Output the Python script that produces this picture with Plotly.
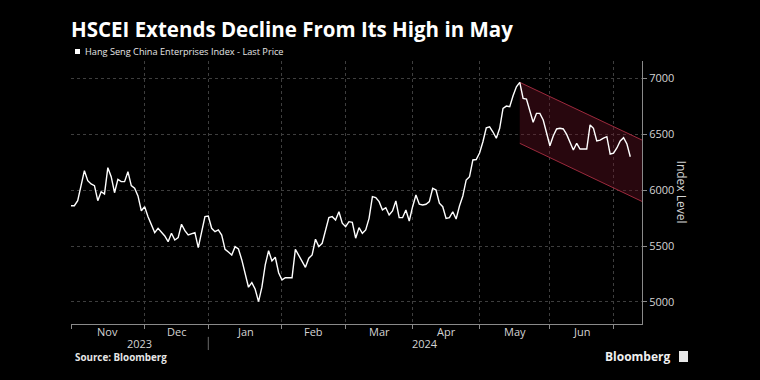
import pandas as pd
import plotly.graph_objects as go

TITLE = "HSCEI Extends Decline From Its High in May"
SERIES_NAME = "Hang Seng China Enterprises Index - Last Price"
SOURCE = "Source: Bloomberg"
Y_TITLE = "Index Level"

# Trading calendar (HKEX): first trading day and market holidays
START_DATE = "2023-11-01"
HOLIDAYS = ["2023-12-25", "2023-12-26", "2024-01-01", "2024-02-12", "2024-02-13",
            "2024-03-29", "2024-04-01", "2024-04-04", "2024-05-01", "2024-05-15",
            "2024-06-10", "2024-07-01"]

# Daily closing levels, one per trading day
values = [
    5861, 5861, 5906, 6040, 6174, 6085, 6055, 6040, 5906, 5986,
    5966, 6201, 6120, 5977, 6097, 6076, 6076, 6165, 6040, 6017,
    5948, 5816, 5852, 5763, 5697, 5620, 5659, 5620, 5590, 5539,
    5614, 5554, 5575, 5695, 5638, 5599, 5608, 5620, 5486, 5626,
    5763, 5769, 5659, 5629, 5644, 5599, 5471, 5447, 5420, 5495,
    5474, 5376, 5250, 5132, 5173, 5114, 5003, 5132, 5331, 5459,
    5367, 5400, 5262, 5197, 5217, 5217, 5217, 5471, 5420, 5367,
    5310, 5391, 5420, 5561, 5495, 5525, 5644, 5754, 5763, 5733,
    5807, 5704, 5673, 5718, 5713, 5570, 5664, 5614, 5644, 5748,
    5942, 5933, 5897, 5823, 5843, 5778, 5814, 5903, 5754, 5754,
    5823, 5724, 5852, 5957, 5874, 5867, 5874, 5897, 6017, 6001,
    5883, 5852, 5748, 5754, 5807, 5742, 5858, 5948, 6091, 6120,
    6270, 6274, 6332, 6433, 6558, 6567, 6520, 6464, 6553, 6732,
    6752, 6746, 6844, 6925, 6964, 6821, 6815, 6717, 6607, 6687,
    6687, 6627, 6502, 6397, 6484, 6547, 6553, 6547, 6499, 6433,
    6359, 6419, 6368, 6368, 6368, 6583, 6553, 6440, 6448, 6466,
    6478, 6323, 6330, 6377, 6440, 6469, 6413, 6299,
]

month_labels = ["Nov", "Dec", "Jan", "Feb", "Mar", "Apr", "May", "Jun"]
y_ticks = [5000, 5500, 6000, 6500, 7000]

# Downward channel drawn from the May high to the chart's right edge
channel_start_date = "2024-05-21"
channel_upper = [6964, 6448]
channel_lower = [6419, 5899]

# ---------------------------------------------------------------
dates = pd.bdate_range(START_DATE, periods=len(values), freq="C", holidays=HOLIDAYS)
n = len(values)
xs = list(range(n))
X_MAX = n - 1 + 3.5

bounds = [0] + [i for i in range(1, n) if dates[i].month != dates[i - 1].month]
label_pos = [(bounds[i] + bounds[i + 1]) / 2 for i in range(len(month_labels))]
year_change = [i for i in range(1, n) if dates[i].year != dates[i - 1].year][0]
years = [str(dates[0].year), str(dates[-1].year)]
year_pos = [(0 + year_change) / 2, (year_change + X_MAX) / 2]

cs = list(dates).index(pd.Timestamp(channel_start_date))

GRID = "#3e3e3e"
AXIS = "#8a8a8a"
TXT = "#d4d4d4"
FONT = "Open Sans"

fig = go.Figure()

fig.add_trace(go.Scatter(
    x=[cs, X_MAX, X_MAX, cs, cs],
    y=[channel_upper[0], channel_upper[1], channel_lower[1], channel_lower[0], channel_upper[0]],
    mode="lines", fill="toself", fillcolor="rgba(105,18,38,0.38)",
    line=dict(width=0), hoverinfo="skip", showlegend=False))
fig.add_trace(go.Scatter(x=[cs, X_MAX], y=channel_upper, mode="lines",
                         line=dict(color="#9c2a3d", width=1), hoverinfo="skip", showlegend=False))
fig.add_trace(go.Scatter(x=[cs, X_MAX], y=channel_lower, mode="lines",
                         line=dict(color="#9c2a3d", width=1), hoverinfo="skip", showlegend=False))

fig.add_trace(go.Scatter(x=xs, y=values, mode="lines", name=SERIES_NAME,
                         line=dict(color="#ffffff", width=1.4), showlegend=False))

fig.update_layout(
    width=760, height=380,
    paper_bgcolor="#000000", plot_bgcolor="#000000",
    margin=dict(l=71, r=118, t=61, b=56),
    font=dict(family=FONT, color=TXT, size=11),
    title=dict(text=TITLE, x=71 / 760, xanchor="left", y=1 - 29.5 / 380, yanchor="middle",
               font=dict(family=FONT, size=20.5, color="#ffffff", weight="bold")),
    xaxis=dict(range=[0, X_MAX], tickvals=bounds, ticktext=[""] * len(bounds),
               showgrid=True, gridcolor=GRID, griddash="dot", gridwidth=1,
               ticks="outside", ticklen=4, tickcolor=AXIS,
               showline=True, linecolor=AXIS, linewidth=1, zeroline=False, fixedrange=True),
    yaxis=dict(range=[4803, 7155], side="right", tickvals=y_ticks,
               showgrid=True, gridcolor=GRID, griddash="dot", gridwidth=1,
               ticks="outside", ticklen=4, tickcolor=AXIS,
               showline=True, linecolor=AXIS, linewidth=1, zeroline=False,
               tickfont=dict(size=11, color=TXT), fixedrange=True),
    showlegend=False,
)

ann = []
for lab, p in zip(month_labels, label_pos):
    ann.append(dict(text=lab, x=p, xref="x", y=-0.027, yref="paper", showarrow=False,
                    xanchor="center", yanchor="middle", font=dict(size=11, color=TXT)))
for lab, p in zip(years, year_pos):
    ann.append(dict(text=lab, x=p, xref="x", y=-0.076, yref="paper", showarrow=False,
                    xanchor="center", yanchor="middle", font=dict(size=11, color=TXT)))
ann.append(dict(text=SERIES_NAME, x=0.021, xref="paper", y=1.035, yref="paper", showarrow=False,
                xanchor="left", yanchor="middle", font=dict(size=9.2, color="#e6e6e6")))
ann.append(dict(text=Y_TITLE, x=1.07, xref="paper", y=0.5, yref="paper", showarrow=False,
                textangle=90, xanchor="center", yanchor="middle", font=dict(size=12, color=TXT)))
ann.append(dict(text="<b>" + SOURCE + "</b>", x=0.003, xref="paper", y=-0.129, yref="paper",
                showarrow=False, xanchor="left", yanchor="middle", font=dict(size=9.8, color="#e6e6e6")))
ann.append(dict(text="<b>Bloomberg</b>", x=1.054, xref="paper", y=-0.124, yref="paper",
                showarrow=False, xanchor="right", yanchor="middle", font=dict(size=12, color="#f0f0f0")))
fig.update_layout(annotations=ann)

shapes = [
    dict(type="rect", xref="paper", yref="paper", x0=0.007, x1=0.0158, y0=1.0266, y1=1.0456,
         fillcolor="#ffffff", line=dict(width=0)),
    dict(type="line", xref="x", yref="paper", x0=year_change, x1=year_change, y0=-0.049, y1=-0.099,
         line=dict(color="#6a6a6a", width=1)),
    dict(type="rect", xref="paper", yref="paper", x0=(679 - 71) / 571, x1=(688 - 71) / 571,
         y0=(324 - 362) / 263, y1=(324 - 351) / 263, fillcolor="#e8e8e8", line=dict(width=0)),
]
fig.update_layout(shapes=shapes)

fig.write_html(
    "out.html",
    config={"displayModeBar": False},
    post_script="document.body.style.margin='0';document.body.style.background='#000';"
                "document.documentElement.style.background='#000';",
)
